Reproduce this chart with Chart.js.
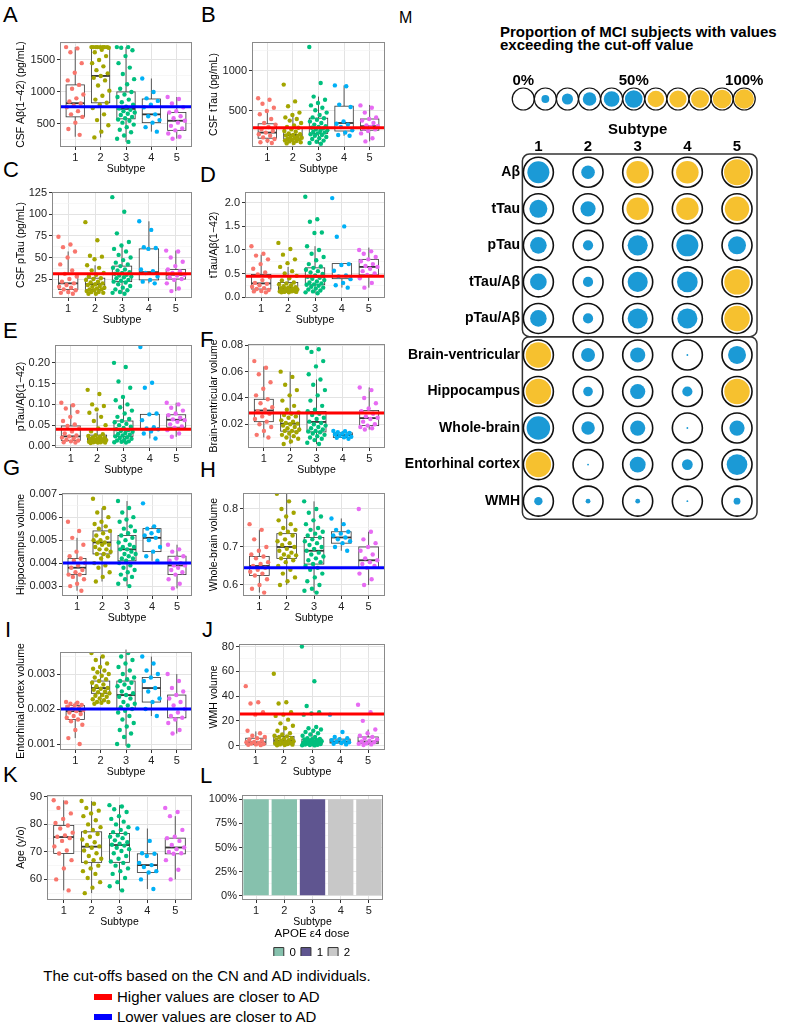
<!DOCTYPE html>
<html>
<head>
<meta charset="utf-8">
<script src="https://cdn.jsdelivr.net/npm/chart.js@4.4.1/dist/chart.umd.min.js"></script>
<style>
  body { margin: 0; background: #fff; width: 787px; height: 1029px; position: relative; overflow: hidden; font-family: "Liberation Sans", Arial, sans-serif; }
  canvas { position: absolute; }
  .tag { position: absolute; font-size: 22px; line-height: 22px; color: #000; }
  .note { position: absolute; font-size: 15px; line-height: 16px; color: #000; white-space: nowrap; }
  .swatch { position: absolute; width: 18px; height: 6px; }
</style>
</head>
<body>
<div class="tag" style="left:3px;top:4px">A</div>
<div class="tag" style="left:201px;top:4px">B</div>
<div class="tag" style="left:3px;top:159px">C</div>
<div class="tag" style="left:200px;top:164px">D</div>
<div class="tag" style="left:3px;top:320px">E</div>
<div class="tag" style="left:200px;top:329px">F</div>
<div class="tag" style="left:3px;top:457px">G</div>
<div class="tag" style="left:200px;top:459px">H</div>
<div class="tag" style="left:5px;top:619px">I</div>
<div class="tag" style="left:202px;top:619px">J</div>
<div class="tag" style="left:3px;top:764px">K</div>
<div class="tag" style="left:200px;top:765px">L</div>
<div class="tag" style="left:399px;top:10px;font-size:16px;line-height:16px">M</div>
<div class="note" style="left:500px;top:26px;font-weight:bold;font-size:15px;line-height:12.5px">Proportion of MCI subjects with values<br>exceeding the cut-off value</div>
<div class="note" style="left:0;width:414px;text-align:center;top:968px">The cut-offs based on the CN and AD individuals.</div>
<div class="swatch" style="left:94px;top:994px;background:#FF0000"></div>
<div class="note" style="left:117px;top:989px">Higher values are closer to AD</div>
<div class="swatch" style="left:94px;top:1014px;background:#0000FF"></div>
<div class="note" style="left:117px;top:1009px">Lower values are closer to AD</div>
<script>
const subtypes = [1, 2, 3, 4, 5];
const subtypeColors = ['#F8766D', '#A3A500', '#00BF7D', '#00B0F6', '#E76BF3'];
const RED = '#FF0000';
const BLUE = '#0000FF';

// A: CSF Abeta
const abPoints = [
  [1700,1680,1620,1450,1300,1180,1110,1050,960,900,850,820,790,760,700,650,610,520,420,330],
  [1700,1700,1700,1700,1700,1700,1700,1700,1690,1660,1620,1560,1500,1450,1400,1340,1290,1250,1220,1180,1100,1020,940,880,830,800,750,650,560,480,380,290],
  [1700,1700,1690,1650,1560,1450,1380,1280,1200,1120,1050,1000,960,920,880,840,800,770,740,720,700,680,660,640,610,590,570,550,520,490,450,410,370,320,270,220],
  [1210,1000,900,860,800,760,650,620,560,520,450,380],
  [920,890,820,760,700,680,620,590,550,520,470,430,400,350,300,270]
];
const abBoxes = [[300,611,824,1110,1700],[290,830,1250,1700,1700],[220,580,735,1000,1700],[380,520,650,890,1210],[270,400,550,680,920]];
const abTicks = [500, 1000, 1500];
const abTickLabels = ['500', '1000', '1500'];
const abCutoff = 770;

// B: CSF tTau
const ttPoints = [
  [660,640,590,540,500,460,400,350,330,300,270,250,230,210,190,170,150,130,110,100],
  [830,620,560,480,450,420,400,380,350,320,300,290,270,250,240,220,210,200,195,185,175,165,160,150,145,140,130,125,120,110,100,95],
  [1300,850,680,640,600,570,540,510,480,450,420,410,390,370,350,330,310,300,290,280,270,260,250,240,230,220,210,200,190,175,160,150,130,115,100,90],
  [820,810,580,550,370,340,330,300,260,230,200,190],
  [570,540,480,420,400,380,350,320,310,300,280,270,250,220,160,120]
];
const ttBoxes = [[100,160,230,340,500],[95,150,200,290,425],[90,220,290,410,680],[190,250,350,560,820],[120,260,310,400,575]];
const ttTicks = [500, 1000];
const ttTickLabels = ['500', '1000'];
const ttCutoff = 290;

// C: CSF pTau
const ptPoints = [
  [74,65,62,57,50,42,35,31,28,25,22,20,18,16,15,13,12,10,9,8],
  [91,70,52,51,48,41,38,35,32,30,28,26,25,24,22,21,20,19,18,17,16,15,14,13,13,12,11,10,10,9,8,8],
  [120,103,78,68,64,60,57,53,50,47,44,42,40,38,36,35,33,32,31,30,29,28,27,26,24,23,22,21,19,17,15,13,12,10,9,8],
  [92,82,62,61,60,36,34,32,28,24,22,20],
  [58,57,50,45,40,36,34,32,30,29,27,25,24,20,14,11]
];
const ptBoxes = [[8,13,20,31,57],[8,13,19,26,41],[8,22,31,40,64],[20,24,33,60,92],[11,25,30,36,58]];
const ptTicks = [25, 50, 75, 100, 125];
const ptTickLabels = ['25', '50', '75', '100', '125'];
const ptCutoff = 31;

// D: tTau/Abeta
const ttabPoints = [
  [1.08,0.92,0.88,0.8,0.7,0.6,0.52,0.48,0.42,0.36,0.3,0.28,0.25,0.22,0.19,0.17,0.15,0.13,0.12,0.1],
  [1.15,1.02,0.9,0.8,0.72,0.64,0.55,0.5,0.45,0.4,0.35,0.31,0.29,0.27,0.25,0.23,0.21,0.2,0.19,0.18,0.17,0.16,0.15,0.14,0.13,0.13,0.12,0.12,0.11,0.11,0.1,0.1],
  [2.13,1.65,1.6,1.37,1.36,1.08,1.0,0.92,0.85,0.78,0.7,0.65,0.62,0.58,0.55,0.52,0.49,0.46,0.43,0.41,0.39,0.36,0.33,0.31,0.29,0.27,0.26,0.24,0.22,0.2,0.18,0.16,0.14,0.12,0.1,0.08],
  [2.1,1.5,1.28,0.7,0.68,0.56,0.46,0.44,0.38,0.3,0.25,0.2],
  [1.0,0.97,0.92,0.85,0.8,0.76,0.7,0.66,0.64,0.6,0.55,0.5,0.47,0.4,0.3,0.2]
];
const ttabBoxes = [[0.1,0.17,0.29,0.48,0.9],[0.1,0.13,0.19,0.31,0.64],[0.08,0.26,0.43,0.62,1.08],[0.2,0.39,0.45,0.71,0.71],[0.2,0.47,0.64,0.8,1.05]];
const ttabTicks = [0, 0.5, 1, 1.5, 2];
const ttabTickLabels = ['0.0', '0.5', '1.0', '1.5', '2.0'];
const ttabCutoff = 0.44;

// E: pTau/Abeta
const ptabPoints = [
  [0.104,0.098,0.09,0.082,0.07,0.06,0.052,0.048,0.042,0.035,0.03,0.025,0.023,0.02,0.018,0.015,0.013,0.011,0.009,0.008],
  [0.135,0.125,0.1,0.096,0.088,0.08,0.07,0.06,0.05,0.042,0.035,0.028,0.026,0.024,0.022,0.02,0.019,0.018,0.017,0.016,0.015,0.014,0.013,0.012,0.011,0.01,0.01,0.009,0.009,0.008,0.008,0.007],
  [0.2,0.19,0.155,0.14,0.118,0.11,0.1,0.093,0.085,0.078,0.07,0.065,0.06,0.057,0.053,0.05,0.046,0.043,0.04,0.038,0.036,0.034,0.031,0.029,0.027,0.025,0.023,0.021,0.019,0.017,0.015,0.013,0.011,0.01,0.009,0.008],
  [0.238,0.152,0.14,0.078,0.076,0.062,0.045,0.042,0.04,0.035,0.03,0.018],
  [0.104,0.1,0.092,0.085,0.078,0.074,0.068,0.064,0.062,0.058,0.052,0.047,0.044,0.038,0.03,0.022]
];
const ptabBoxes = [[0.008,0.013,0.023,0.048,0.1],[0.007,0.01,0.017,0.026,0.08],[0.008,0.023,0.039,0.06,0.118],[0.018,0.039,0.04,0.076,0.078],[0.022,0.045,0.063,0.075,0.104]];
const ptabTicks = [0, 0.05, 0.1, 0.15, 0.2];
const ptabTickLabels = ['0.00', '0.05', '0.10', '0.15', '0.20'];
const ptabCutoff = 0.04;

// F: brain-ventricular volume
const bvPoints = [
  [0.068,0.063,0.058,0.052,0.047,0.042,0.039,0.036,0.033,0.031,0.03,0.028,0.026,0.024,0.022,0.02,0.018,0.015,0.012,0.01],
  [0.06,0.056,0.05,0.046,0.042,0.038,0.034,0.031,0.029,0.028,0.027,0.026,0.025,0.023,0.022,0.021,0.0205,0.02,0.019,0.018,0.017,0.016,0.015,0.015,0.014,0.013,0.012,0.011,0.01,0.009,0.007,0.005],
  [0.078,0.077,0.075,0.068,0.064,0.058,0.054,0.05,0.046,0.042,0.038,0.034,0.031,0.03,0.028,0.027,0.025,0.024,0.022,0.021,0.02,0.019,0.018,0.017,0.016,0.015,0.0145,0.014,0.013,0.012,0.011,0.01,0.009,0.008,0.006,0.005],
  [0.015,0.0148,0.014,0.0135,0.013,0.0122,0.0118,0.0112,0.0106,0.0101,0.0097,0.009],
  [0.048,0.046,0.04,0.036,0.032,0.03,0.028,0.026,0.025,0.024,0.022,0.02,0.019,0.018,0.017,0.016]
];
const bvBoxes = [[0.01,0.022,0.0305,0.039,0.064],[0.005,0.0148,0.0205,0.028,0.06],[0.005,0.0142,0.0218,0.0298,0.054],[0.009,0.010,0.0118,0.0135,0.015],[0.016,0.019,0.0247,0.0305,0.048]];
const bvTicks = [0.02, 0.04, 0.06, 0.08];
const bvTickLabels = ['0.02', '0.04', '0.06', '0.08'];
const bvCutoff = 0.0285;

// G: hippocampus volume
const hipPoints = [
  [0.0058,0.0054,0.0051,0.0048,0.0045,0.0043,0.0042,0.0041,0.004,0.0039,0.0038,0.0037,0.0036,0.0035,0.0035,0.0034,0.0033,0.0031,0.003,0.0028],
  [0.0068,0.0064,0.0062,0.006,0.0058,0.0057,0.0056,0.0055,0.0054,0.0053,0.0052,0.0051,0.005,0.005,0.0049,0.0049,0.0048,0.0048,0.0047,0.0046,0.0046,0.0045,0.0044,0.0044,0.0043,0.0042,0.004,0.0039,0.0038,0.0036,0.0034,0.0032],
  [0.0067,0.0064,0.0062,0.006,0.0059,0.0058,0.0056,0.0055,0.0054,0.0053,0.0052,0.0051,0.005,0.0049,0.0048,0.0047,0.0047,0.0046,0.0046,0.0045,0.0044,0.0044,0.0043,0.0042,0.0042,0.0041,0.004,0.0039,0.0038,0.0037,0.0036,0.0035,0.0034,0.0033,0.0031,0.003],
  [0.0066,0.0056,0.0055,0.0054,0.0053,0.0052,0.0051,0.005,0.0047,0.0045,0.0043,0.0041],
  [0.0048,0.0046,0.0045,0.0043,0.0042,0.0041,0.004,0.0039,0.0039,0.0038,0.0037,0.0036,0.0035,0.0033,0.0031,0.0029]
];
const hipBoxes = [[0.0028,0.0035,0.0038,0.0042,0.0051],[0.0032,0.0044,0.0049,0.0054,0.0064],[0.003,0.0041,0.0046,0.0052,0.0067],[0.0041,0.0045,0.0051,0.0055,0.0056],[0.0029,0.0035,0.0039,0.0043,0.0048]];
const hipTicks = [0.003, 0.004, 0.005, 0.006, 0.007];
const hipTickLabels = ['0.003', '0.004', '0.005', '0.006', '0.007'];
const hipCutoff = 0.004;

// H: whole-brain volume
const wbPoints = [
  [0.76,0.745,0.72,0.7,0.69,0.68,0.675,0.67,0.66,0.655,0.65,0.645,0.64,0.635,0.63,0.625,0.615,0.6,0.59,0.58],
  [0.84,0.82,0.8,0.79,0.78,0.77,0.76,0.75,0.745,0.74,0.735,0.73,0.72,0.715,0.71,0.705,0.7,0.695,0.69,0.685,0.68,0.678,0.675,0.67,0.665,0.66,0.65,0.64,0.63,0.62,0.61,0.6],
  [0.82,0.8,0.79,0.78,0.77,0.76,0.75,0.745,0.74,0.735,0.73,0.725,0.72,0.715,0.71,0.705,0.7,0.695,0.69,0.685,0.68,0.675,0.67,0.665,0.66,0.655,0.65,0.645,0.64,0.63,0.62,0.61,0.6,0.59,0.585,0.58],
  [0.775,0.76,0.745,0.74,0.735,0.73,0.725,0.72,0.715,0.71,0.7,0.69],
  [0.8,0.74,0.72,0.71,0.7,0.69,0.68,0.67,0.665,0.66,0.655,0.65,0.645,0.63,0.615,0.6]
];
const wbBoxes = [[0.58,0.625,0.65,0.675,0.745],[0.6,0.67,0.7,0.735,0.84],[0.58,0.655,0.69,0.725,0.82],[0.69,0.71,0.725,0.74,0.775],[0.6,0.645,0.665,0.7,0.74]];
const wbTicks = [0.6, 0.7, 0.8];
const wbTickLabels = ['0.6', '0.7', '0.8'];
const wbCutoff = 0.645;

// I: entorhinal cortex volume
const ecPoints = [
  [0.0022,0.00218,0.00215,0.00212,0.0021,0.00207,0.00203,0.002,0.00197,0.00194,0.0019,0.00186,0.0018,0.00175,0.0017,0.00165,0.00155,0.0014,0.00117,0.001],
  [0.0036,0.0035,0.0034,0.0033,0.0032,0.00315,0.0031,0.00305,0.003,0.00295,0.0029,0.00285,0.0028,0.00275,0.0027,0.00265,0.0026,0.00258,0.00255,0.0025,0.00248,0.00245,0.0024,0.00238,0.00235,0.0023,0.00228,0.00225,0.0022,0.0022,0.00218,0.00215],
  [0.0037,0.0036,0.0035,0.0034,0.0033,0.0032,0.0031,0.003,0.0029,0.00285,0.0028,0.00275,0.0027,0.00265,0.0026,0.0025,0.00245,0.0024,0.00235,0.0023,0.0022,0.00215,0.0021,0.00205,0.002,0.00195,0.0019,0.0018,0.0017,0.0016,0.0015,0.0014,0.0013,0.0012,0.001,0.00095],
  [0.0035,0.0033,0.0031,0.003,0.0029,0.0028,0.0026,0.0025,0.0023,0.0022,0.002,0.0018],
  [0.003,0.0028,0.0026,0.0025,0.0024,0.0023,0.0022,0.0021,0.002,0.0019,0.0018,0.00175,0.0017,0.0016,0.0014,0.0013]
];
const ecBoxes = [[0.00117,0.0017,0.00194,0.0021,0.0022],[0.0022,0.00245,0.0026,0.0028,0.0035],[0.00095,0.002,0.0024,0.0028,0.0037],[0.0018,0.0022,0.0026,0.0029,0.0035],[0.0013,0.00175,0.002,0.0024,0.003]];
const ecTicks = [0.001, 0.002, 0.003];
const ecTickLabels = ['0.001', '0.002', '0.003'];
const ecCutoff = 0.002;

// J: WMH volume
const wmhPoints = [
  [48,35,34,27,25,12,10,8,7,6,5,4,3,2.7,2.2,1.8,1.4,1,0.7,0.4],
  [58,35,34,27,25,24,21,18,16,14,12,10,9,8,7.5,7,6,5.5,5,4.5,4,3.5,3,2.6,2.2,2,1.7,1.3,1,0.8,0.5,0.3],
  [80,52,32,27,26,25,15,14,13,12,11,10,9,8,7,6,5.5,5.3,5,4.5,4,3.6,3.3,3,2.7,2.4,2.1,1.9,1.6,1.3,1.1,0.9,0.7,0.5,0.3,0.2],
  [25,11,7,6,5.3,4.5,3.5,3.2,2.8,2.1,1.5,1],
  [33,27,20,13,10,8,7,6,5,4,3.3,2.7,2,1.6,1,0.5]
];
const wmhBoxes = [[0.4,1,2.7,6,11.5],[0.3,1.3,4,7.5,16],[0.2,1.3,3,5.3,11],[1,2.1,3.3,5.3,7],[0.5,1.6,3.3,7,13]];
const wmhTicks = [0, 20, 40, 60, 80];
const wmhTickLabels = ['0', '20', '40', '60', '80'];
const wmhCutoff = 25.6;

// K: age
const agePoints = [
  [88.8,88,86,84,82,80.5,79.6,78.5,77,76,75.5,75,74,72,70.5,69.4,67,64,60,56],
  [88.5,87.5,86,85,84,83,81.5,80,79,78,77.3,76.5,75.5,74.5,73.5,72.5,72,71.5,70.5,69.5,68.5,67.5,67,66.2,65,64,63,62,60.5,59,57,55],
  [87,86.5,85.5,84.5,83,82,81,80,79,78,77.2,76.7,76,75.5,75,74.2,73.5,73,72.6,72.3,71.5,71,70.3,69.5,68.5,67.5,66.5,66,65,64,63,62,60.5,59,57.5,56],
  [78.5,74,69.5,69.3,68.5,66,65.2,64.5,63,62.5,60,56.5],
  [86,84.5,83,78,75.5,75,74,72.5,71.6,71,70,69.5,69.3,67,63.5,60]
];
const ageBoxes = [[56,69.4,75.4,79.6,88.8],[55,66.2,71.9,77.3,88.5],[56,66.2,72.5,76.7,87],[56.5,62.5,65.2,69.3,78.5],[60,69.3,71.6,75,83]];
const ageTicks = [60, 70, 80, 90];
const ageTickLabels = ['60', '70', '80', '90'];

// L: APOE e4 dose share per subtype
const apoeDoses = ['0', '1', '2'];
const apoeShare = [[1, 1, 0, 0, 0], [0, 0, 1, 0, 0], [0, 0, 0, 1, 1]];
const apoeColors = ['#86C1AD', '#5F5590', '#C8C8C8'];
const shareTicks = [0, 0.25, 0.5, 0.75, 1];
const shareTickLabels = ['0%', '25%', '50%', '75%', '100%'];

// M: proportion above the cut-off
const mRows = ['Aβ', 'tTau', 'pTau', 'tTau/Aβ', 'pTau/Aβ', 'Brain-ventricular', 'Hippocampus', 'Whole-brain', 'Entorhinal cortex', 'WMH'];
const mProp = [
  [0.42, 0.16, 0.6, 0.6, 0.95],
  [0.28, 0.2, 0.6, 0.6, 0.8],
  [0.24, 0.09, 0.35, 0.42, 0.28],
  [0.24, 0.09, 0.35, 0.37, 0.9],
  [0.24, 0.09, 0.35, 0.35, 0.9],
  [0.9, 0.17, 0.2, 0.003, 0.28],
  [0.9, 0.08, 0.2, 0.09, 0.9],
  [0.48, 0.16, 0.2, 0.003, 0.2],
  [0.9, 0.003, 0.22, 0.1, 0.37],
  [0.06, 0.02, 0.02, 0.003, 0.04]
];
const mGroups = [['CSF biomarkers', 0, 4], ['Brain volumes', 5, 9]];
const legendProps = [0, 0.1, 0.2, 0.3, 0.4, 0.5, 0.6, 0.7, 0.8, 0.9, 1];
const legendLabels = ['0%', '', '', '', '', '50%', '', '', '', '', '100%'];

const DOT_BLUE = '#1B9AD6';
const DOT_YELLOW = '#F6C12F';
const tickFont = { family: 'Liberation Sans', size: 11 };
const titleFont = { family: 'Liberation Sans', size: 10.5 };

function jitter(i) {
    return ((i * 0.6180339887) % 1 - 0.5) * 0.72;
}

function withMinor(major, min, max) {
    const step = major[1] - major[0];
    const out = [];
    if (major[0] - step / 2 >= min) out.push({ value: major[0] - step / 2, minor: true });
    major.forEach((m, i) => {
        out.push({ value: m });
        if (i < major.length - 1) out.push({ value: (m + major[i + 1]) / 2, minor: true });
    });
    const last = major[major.length - 1];
    if (last + step / 2 <= max) out.push({ value: last + step / 2, minor: true });
    return out;
}

function makeCanvas(x, y, w, h) {
    const c = document.createElement('canvas');
    c.width = w; c.height = h;
    c.style.left = x + 'px'; c.style.top = y + 'px';
    c.style.width = w + 'px'; c.style.height = h + 'px';
    document.body.appendChild(c);
    return c;
}

const gridOpts = {
    color: c => c.tick && c.tick.minor ? '#F2F2F2' : '#E3E3E3',
    lineWidth: c => c.tick && c.tick.minor ? 0.6 : 1,
    tickColor: c => c.tick && c.tick.minor ? 'rgba(0,0,0,0)' : '#333',
    tickLength: 3
};

const boxPlugin = {
    id: 'boxes',
    beforeDatasetsDraw(chart, args, o) {
        if (!o.stats) return;
        const { ctx, scales: { x, y } } = chart;
        ctx.save();
        o.stats.forEach((s, g) => {
            const cx = x.getPixelForValue(subtypes[g]);
            const hw = x.getPixelForValue(subtypes[g] + 0.36) - cx;
            const [lo, q1, md, q3, hi] = s.map(v => y.getPixelForValue(v));
            ctx.strokeStyle = '#333';
            ctx.lineWidth = 0.8;
            ctx.beginPath();
            ctx.moveTo(cx, q3); ctx.lineTo(cx, hi);
            ctx.moveTo(cx, q1); ctx.lineTo(cx, lo);
            ctx.stroke();
            ctx.fillStyle = '#fff';
            ctx.fillRect(cx - hw, q3, 2 * hw, q1 - q3);
            ctx.strokeRect(cx - hw, q3, 2 * hw, q1 - q3);
            ctx.lineWidth = 1.8;
            ctx.beginPath();
            ctx.moveTo(cx - hw, md); ctx.lineTo(cx + hw, md);
            ctx.stroke();
        });
        ctx.restore();
    },
    afterDatasetsDraw(chart, args, o) {
        if (o.cutoff == null) return;
        const { ctx, chartArea: a, scales: { y } } = chart;
        const py = y.getPixelForValue(o.cutoff);
        ctx.save();
        ctx.strokeStyle = o.cutColor;
        ctx.lineWidth = 3;
        ctx.beginPath();
        ctx.moveTo(a.left, py); ctx.lineTo(a.right, py);
        ctx.stroke();
        ctx.restore();
    },
    afterDraw(chart) {
        const { ctx, chartArea: a } = chart;
        ctx.save();
        ctx.strokeStyle = '#8A8A8A';
        ctx.lineWidth = 1;
        ctx.strokeRect(a.left + 0.5, a.top + 0.5, a.right - a.left - 1, a.bottom - a.top - 1);
        ctx.restore();
    }
};

const panels = [
    { col: 0, plot: [60, 42, 192, 147], yRange: [140, 1780], title: 'CSF Aβ(1−42) (pg/mL)', points: abPoints, boxes: abBoxes, ticks: abTicks, labels: abTickLabels, cutoff: abCutoff, cutColor: BLUE },
    { col: 1, plot: [252, 42, 385, 147], yRange: [50, 1362], title: 'CSF tTau (pg/mL)', points: ttPoints, boxes: ttBoxes, ticks: ttTicks, labels: ttTickLabels, cutoff: ttCutoff, cutColor: RED },
    { col: 0, plot: [52, 192, 192, 298], yRange: [3, 126], title: 'CSF pTau (pg/mL)', points: ptPoints, boxes: ptBoxes, ticks: ptTicks, labels: ptTickLabels, cutoff: ptCutoff, cutColor: RED },
    { col: 1, plot: [245, 192, 385, 298], yRange: [-0.02, 2.23], title: 'tTau/Aβ(1−42)', points: ttabPoints, boxes: ttabBoxes, ticks: ttabTicks, labels: ttabTickLabels, cutoff: ttabCutoff, cutColor: RED },
    { col: 0, plot: [55, 345, 192, 448], yRange: [-0.005, 0.243], title: 'pTau/Aβ(1−42)', points: ptabPoints, boxes: ptabBoxes, ticks: ptabTicks, labels: ptabTickLabels, cutoff: ptabCutoff, cutColor: RED },
    { col: 1, plot: [248, 344, 385, 448], yRange: [0.002, 0.081], title: 'Brain-ventricular volume', points: bvPoints, boxes: bvBoxes, ticks: bvTicks, labels: bvTickLabels, cutoff: bvCutoff, cutColor: RED },
    { col: 0, plot: [62, 493, 192, 596], yRange: [0.00257, 0.00705], title: 'Hippocampus volume', points: hipPoints, boxes: hipBoxes, ticks: hipTicks, labels: hipTickLabels, cutoff: hipCutoff, cutColor: BLUE },
    { col: 1, plot: [243, 493, 385, 596], yRange: [0.571, 0.842], title: 'Whole-brain volume', points: wbPoints, boxes: wbBoxes, ticks: wbTicks, labels: wbTickLabels, cutoff: wbCutoff, cutColor: BLUE },
    { col: 0, plot: [60, 652, 192, 750], yRange: [0.00083, 0.00363], title: 'Entorhinal cortex volume', points: ecPoints, boxes: ecBoxes, ticks: ecTicks, labels: ecTickLabels, cutoff: ecCutoff, cutColor: BLUE },
    { col: 1, plot: [239, 644, 385, 750], yRange: [-3.5, 82], title: 'WMH volume', points: wmhPoints, boxes: wmhBoxes, ticks: wmhTicks, labels: wmhTickLabels, cutoff: wmhCutoff, cutColor: RED },
    { col: 0, plot: [47, 795, 192, 900], yRange: [52.5, 90.7], title: 'Age (y/o)', points: agePoints, boxes: ageBoxes, ticks: ageTicks, labels: ageTickLabels, cutoff: null, cutColor: null }
];

function drawBoxPanel(p) {
    const [L, T, R, B] = p.plot;
    const cx = p.col === 0 ? 15 : 208;
    const cy = T - 14;
    const canvas = makeCanvas(cx, cy, R + 6 - cx, B + 28 - cy);
    const yTicks = withMinor(p.ticks, p.yRange[0], p.yRange[1]);
    new Chart(canvas, {
        type: 'scatter',
        data: {
            datasets: p.points.map((arr, g) => ({
                data: arr.map((v, i) => ({ x: subtypes[g] + jitter(i), y: v })),
                backgroundColor: subtypeColors[g],
                borderWidth: 0,
                pointRadius: 2.2
            }))
        },
        options: {
            responsive: false, animation: false, events: [],
            layout: { padding: { top: 14, right: 6, left: 0, bottom: 0 } },
            plugins: {
                legend: { display: false }, tooltip: { enabled: false },
                boxes: { stats: p.boxes, cutoff: p.cutoff, cutColor: p.cutColor }
            },
            scales: {
                x: {
                    type: 'linear', min: 0.4, max: 5.6,
                    afterBuildTicks: s => { s.ticks = subtypes.map(v => ({ value: v })); },
                    afterFit: s => { s.height = 28; },
                    ticks: { callback: v => String(v), font: tickFont, color: '#222', padding: 1, maxRotation: 0, autoSkip: false },
                    grid: { color: '#E3E3E3', tickColor: '#333', tickLength: 3 },
                    border: { display: false },
                    title: { display: true, text: 'Subtype', font: titleFont, color: '#000', padding: 0 }
                },
                y: {
                    type: 'linear', min: p.yRange[0], max: p.yRange[1],
                    afterBuildTicks: s => { s.ticks = yTicks.map(t => Object.assign({}, t)); },
                    afterFit: s => { s.width = L - cx; },
                    ticks: {
                        callback: (v, i, t) => t[i].minor ? '' : p.labels[p.ticks.indexOf(v)],
                        font: tickFont, color: '#222', padding: 2, autoSkip: false
                    },
                    grid: gridOpts,
                    border: { display: false },
                    title: { display: true, text: p.title, font: titleFont, color: '#000', padding: 0 }
                }
            }
        },
        plugins: [boxPlugin]
    });
}

panels.forEach(drawBoxPanel);

// L: stacked share of APOE e4 dose
(function () {
    const [L, T, R, B] = [242, 795, 383, 900];
    const cx = 208, cy = T - 14, w = 208;
    const canvas = makeCanvas(cx, cy, w, B + 56 - cy);
    const yTicks = withMinor(shareTicks, -0.045, 1.045);
    new Chart(canvas, {
        type: 'bar',
        data: {
            labels: subtypes.map(String),
            datasets: apoeDoses.map((d, i) => ({
                label: d, data: apoeShare[i], backgroundColor: apoeColors[i],
                borderWidth: 0, barPercentage: 0.9, categoryPercentage: 1
            }))
        },
        options: {
            responsive: false, animation: false, events: [],
            layout: { padding: { top: 14, right: 0, left: 0, bottom: 0 } },
            plugins: {
                tooltip: { enabled: false },
                legend: {
                    position: 'bottom', maxHeight: 28,
                    title: { display: true, text: 'APOE ε4 dose', font: { family: 'Liberation Sans', size: 11.5 }, color: '#000', padding: 0 },
                    labels: {
                        boxWidth: 10, boxHeight: 10, padding: 5, color: '#000',
                        font: { family: 'Liberation Sans', size: 11.5 },
                        generateLabels: ch => ch.data.datasets.map((d, i) => ({
                            text: d.label, fillStyle: d.backgroundColor, strokeStyle: '#333',
                            lineWidth: 1, hidden: false, datasetIndex: i, fontColor: '#000'
                        }))
                    }
                }
            },
            scales: {
                x: {
                    stacked: true,
                    afterFit: s => { s.height = 28; },
                    ticks: { font: tickFont, color: '#222', padding: 1, maxRotation: 0 },
                    grid: { offset: false, color: '#E3E3E3', tickColor: '#333', tickLength: 3 },
                    border: { display: false },
                    title: { display: true, text: 'Subtype', font: titleFont, color: '#000', padding: 0 }
                },
                y: {
                    stacked: true, min: -0.045, max: 1.045,
                    afterBuildTicks: s => { s.ticks = yTicks.map(t => Object.assign({}, t)); },
                    afterFit: s => { s.width = L - cx; },
                    ticks: {
                        callback: (v, i, t) => t[i].minor ? '' : shareTickLabels[shareTicks.indexOf(v)],
                        font: tickFont, color: '#222', padding: 2, autoSkip: false
                    },
                    grid: gridOpts,
                    border: { display: false }
                },
                spacer: {
                    type: 'linear', axis: 'y', position: 'right', display: true,
                    afterFit: s => { s.width = cx + w - R; },
                    ticks: { display: false }, grid: { display: false }, border: { display: false }
                }
            }
        },
        plugins: [{
            id: 'frame',
            afterDraw(chart) {
                const { ctx, chartArea: a } = chart;
                ctx.save();
                ctx.strokeStyle = '#8A8A8A';
                ctx.strokeRect(a.left + 0.5, a.top + 0.5, a.right - a.left - 1, a.bottom - a.top - 1);
                ctx.restore();
            }
        }]
    });
})();

// M: circle matrix
function dotRadius(p, outer) {
    if (p <= 0.5) return outer * 0.8 * Math.sqrt(p / 0.5);
    return outer * (0.72 + 0.16 * (p - 0.5) / 0.5);
}
const dotColor = c => c.raw.p > 0.5 ? DOT_YELLOW : DOT_BLUE;

(function () {
    const canvas = makeCanvas(400, 121, 387, 415);
    const cells = [];
    mRows.forEach((row, r) => mProp[r].forEach((p, j) => cells.push({ x: subtypes[j], y: row, p: p })));
    const bold14 = { family: 'Liberation Sans', size: 14, weight: 'bold' };
    const bold15 = { family: 'Liberation Sans', size: 15, weight: 'bold' };
    new Chart(canvas, {
        type: 'scatter',
        data: {
            datasets: [
                { data: cells, pointRadius: c => dotRadius(c.raw.p, 15), backgroundColor: dotColor, borderWidth: 0, clip: false },
                { data: cells, pointRadius: 15, backgroundColor: '#fff', borderColor: '#111', borderWidth: 1.6, clip: false }
            ]
        },
        options: {
            responsive: false, animation: false, events: [],
            layout: { padding: { top: 0, right: 32.6, bottom: 8, left: 0 } },
            plugins: { legend: { display: false }, tooltip: { enabled: false } },
            scales: {
                x: {
                    type: 'linear', position: 'top', min: 0.65, max: 5.35,
                    afterBuildTicks: s => { s.ticks = subtypes.map(v => ({ value: v })); },
                    afterFit: s => { s.height = 33; },
                    ticks: { callback: v => String(v), font: bold15, color: '#000', padding: -2, maxRotation: 0, autoSkip: false },
                    grid: { display: false, drawTicks: false }, border: { display: false },
                    title: { display: true, text: 'Subtype', font: bold15, color: '#000', padding: 0 }
                },
                y: {
                    type: 'category', labels: mRows, offset: true,
                    afterFit: s => { s.width = 121; },
                    ticks: { font: bold14, color: '#000', padding: 1, autoSkip: false },
                    grid: { display: false, drawTicks: false }, border: { display: false }
                }
            }
        },
        plugins: [{
            id: 'groups',
            beforeDatasetsDraw(chart) {
                const { ctx, scales: { x, y } } = chart;
                ctx.save();
                ctx.strokeStyle = '#333';
                ctx.lineWidth = 1.5;
                mGroups.forEach(([name, from, to]) => {
                    const left = x.getPixelForValue(subtypes[0]) - 16;
                    const right = x.getPixelForValue(subtypes[4]) + 20;
                    const top = y.getPixelForValue(from) - 18.2;
                    const bottom = y.getPixelForValue(to) + 18.2;
                    ctx.beginPath();
                    ctx.roundRect(left, top, right - left, bottom - top, 7);
                    ctx.stroke();
                    ctx.save();
                    ctx.translate(776, (top + bottom) / 2);
                    ctx.rotate(Math.PI / 2);
                    ctx.fillStyle = '#000';
                    ctx.font = 'bold 14px "Liberation Sans"';
                    ctx.textAlign = 'center';
                    ctx.textBaseline = 'middle';
                    ctx.fillText(name, 0, 0);
                    ctx.restore();
                });
                ctx.restore();
            }
        }]
    });
})();

// M: size legend
(function () {
    const canvas = makeCanvas(500, 60, 270, 62);
    const pts = legendProps.map(p => ({ x: p, y: 0.5, p: p }));
    new Chart(canvas, {
        type: 'scatter',
        data: {
            datasets: [
                { data: pts, pointRadius: c => dotRadius(c.raw.p, 11), backgroundColor: dotColor, borderWidth: 0, clip: false },
                { data: pts, pointRadius: 11, backgroundColor: '#fff', borderColor: '#111', borderWidth: 1.2, clip: false }
            ]
        },
        options: {
            responsive: false, animation: false, events: [],
            layout: { padding: { top: 0, right: 14.7, bottom: 14, left: 6.7 } },
            plugins: { legend: { display: false }, tooltip: { enabled: false } },
            scales: {
                x: {
                    type: 'linear', position: 'top', min: -0.05, max: 1.05,
                    afterBuildTicks: s => { s.ticks = legendProps.map(v => ({ value: v })); },
                    afterFit: s => { s.height = 30; },
                    ticks: {
                        callback: (v, i) => legendLabels[i],
                        font: { family: 'Liberation Sans', size: 15, weight: 'bold' }, color: '#000',
                        padding: 0, maxRotation: 0, autoSkip: false
                    },
                    grid: { display: false, drawTicks: false }, border: { display: false }
                },
                y: { display: false, min: 0, max: 1 }
            }
        }
    });
})();
</script>
</body>
</html>
